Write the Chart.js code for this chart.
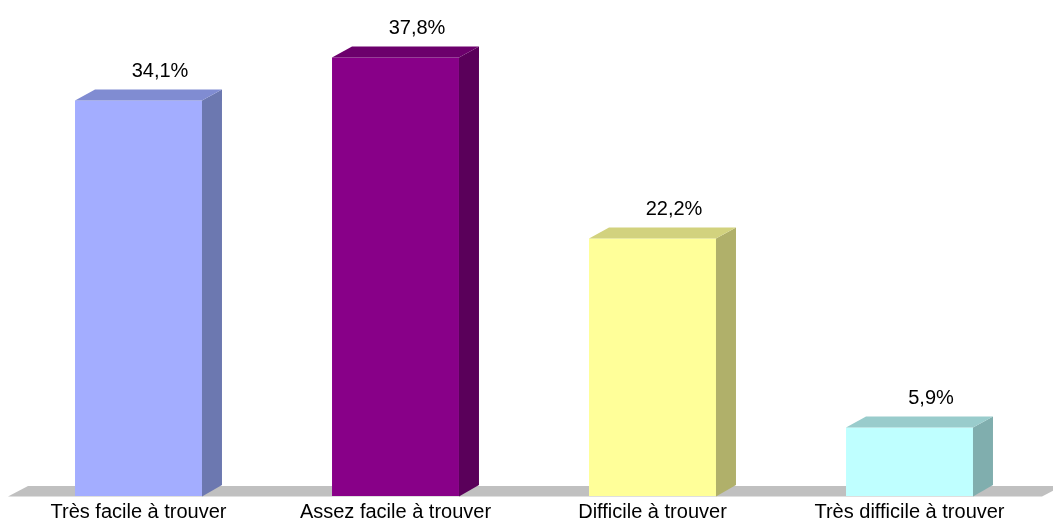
<!DOCTYPE html>
<html>
<head>
<meta charset="utf-8">
<script src="https://cdn.jsdelivr.net/npm/chart.js@4/dist/chart.umd.min.js"></script>
<style>
  html, body { margin: 0; padding: 0; background: #fff; }
  #wrap { width: 1053px; height: 523px; position: relative; }
</style>
</head>
<body>
<div id="wrap"><canvas id="graf"></canvas></div>
<script>
// donnees
const categories = ['Très facile à trouver', 'Assez facile à trouver', 'Difficile à trouver', 'Très difficile à trouver'];
const valeurs = [34.1, 37.8, 22.2, 5.9];
const etiquettes = ['34,1%', '37,8%', '22,2%', '5,9%'];

// couleurs : face avant, cote, dessus
const faceAvant = ['#a3adff', '#880088', '#ffff99', '#bfffff'];
const faceCote  = ['#6c78b0', '#5a005a', '#b0b06a', '#80aeae'];
const faceHaut  = ['#808cd2', '#6c006c', '#d2d27e', '#99cccc'];

const PROF_X = 20, PROF_Y = 11;
const POLICE = '"Liberation Sans", Arial, sans-serif';

// sol gris + faces 3D + etiquettes
const effet3D = {
  id: 'effet3D',
  beforeDatasetsDraw(chart) {
    const {ctx, chartArea} = chart;
    const b = chartArea.bottom;
    ctx.save();
    ctx.fillStyle = '#c0c0c0';
    ctx.beginPath();
    ctx.moveTo(chartArea.left - 2, b + 0.5);
    ctx.lineTo(chartArea.right + 4, b + 0.5);
    ctx.lineTo(chartArea.right + 4 + PROF_X, b - PROF_Y + 1);
    ctx.lineTo(chartArea.left - 2 + PROF_X, b - PROF_Y + 1);
    ctx.closePath();
    ctx.fill();
    ctx.restore();
  },
  afterDatasetsDraw(chart) {
    const {ctx} = chart;
    const meta = chart.getDatasetMeta(0);
    ctx.save();
    meta.data.forEach((bar, i) => {
      const l = bar.x - bar.width / 2, r = bar.x + bar.width / 2;
      const t = bar.y, bas = bar.base;
      // cote droit
      ctx.fillStyle = faceCote[i];
      ctx.beginPath();
      ctx.moveTo(r, t);
      ctx.lineTo(r + PROF_X, t - PROF_Y);
      ctx.lineTo(r + PROF_X, bas - PROF_Y);
      ctx.lineTo(r, bas + 0.5);
      ctx.closePath();
      ctx.fill();
      // dessus
      ctx.fillStyle = faceHaut[i];
      ctx.beginPath();
      ctx.moveTo(l, t);
      ctx.lineTo(l + PROF_X, t - PROF_Y);
      ctx.lineTo(r + PROF_X, t - PROF_Y);
      ctx.lineTo(r, t);
      ctx.closePath();
      ctx.fill();
      // etiquette
      ctx.fillStyle = '#000';
      ctx.font = '20px ' + POLICE;
      ctx.textAlign = 'center';
      ctx.textBaseline = 'alphabetic';
      ctx.fillText(etiquettes[i], bar.x + 21.5, t - 23.5);
    });
    ctx.restore();
  }
};

new Chart(document.getElementById('graf'), {
  type: 'bar',
  data: {
    labels: categories,
    datasets: [{
      data: valeurs,
      backgroundColor: faceAvant,
      borderWidth: 0,
      barPercentage: 0.494,
      categoryPercentage: 1
    }]
  },
  options: {
    responsive: true,
    maintainAspectRatio: false,
    animation: false,
    layout: { padding: { left: 10, right: 15, top: 32, bottom: 0 } },
    plugins: { legend: { display: false }, tooltip: { enabled: false } },
    scales: {
      x: {
        grid: { display: false, drawTicks: false },
        border: { display: false },
        ticks: {
          color: '#000',
          padding: 4,
          maxRotation: 0,
          autoSkip: false,
          font: { family: POLICE, size: 20 }
        },
        afterFit(scale) { scale.height = 27; }
      },
      y: { display: false, min: 0, max: 40 }
    }
  },
  plugins: [effet3D]
});
</script>
</body>
</html>
